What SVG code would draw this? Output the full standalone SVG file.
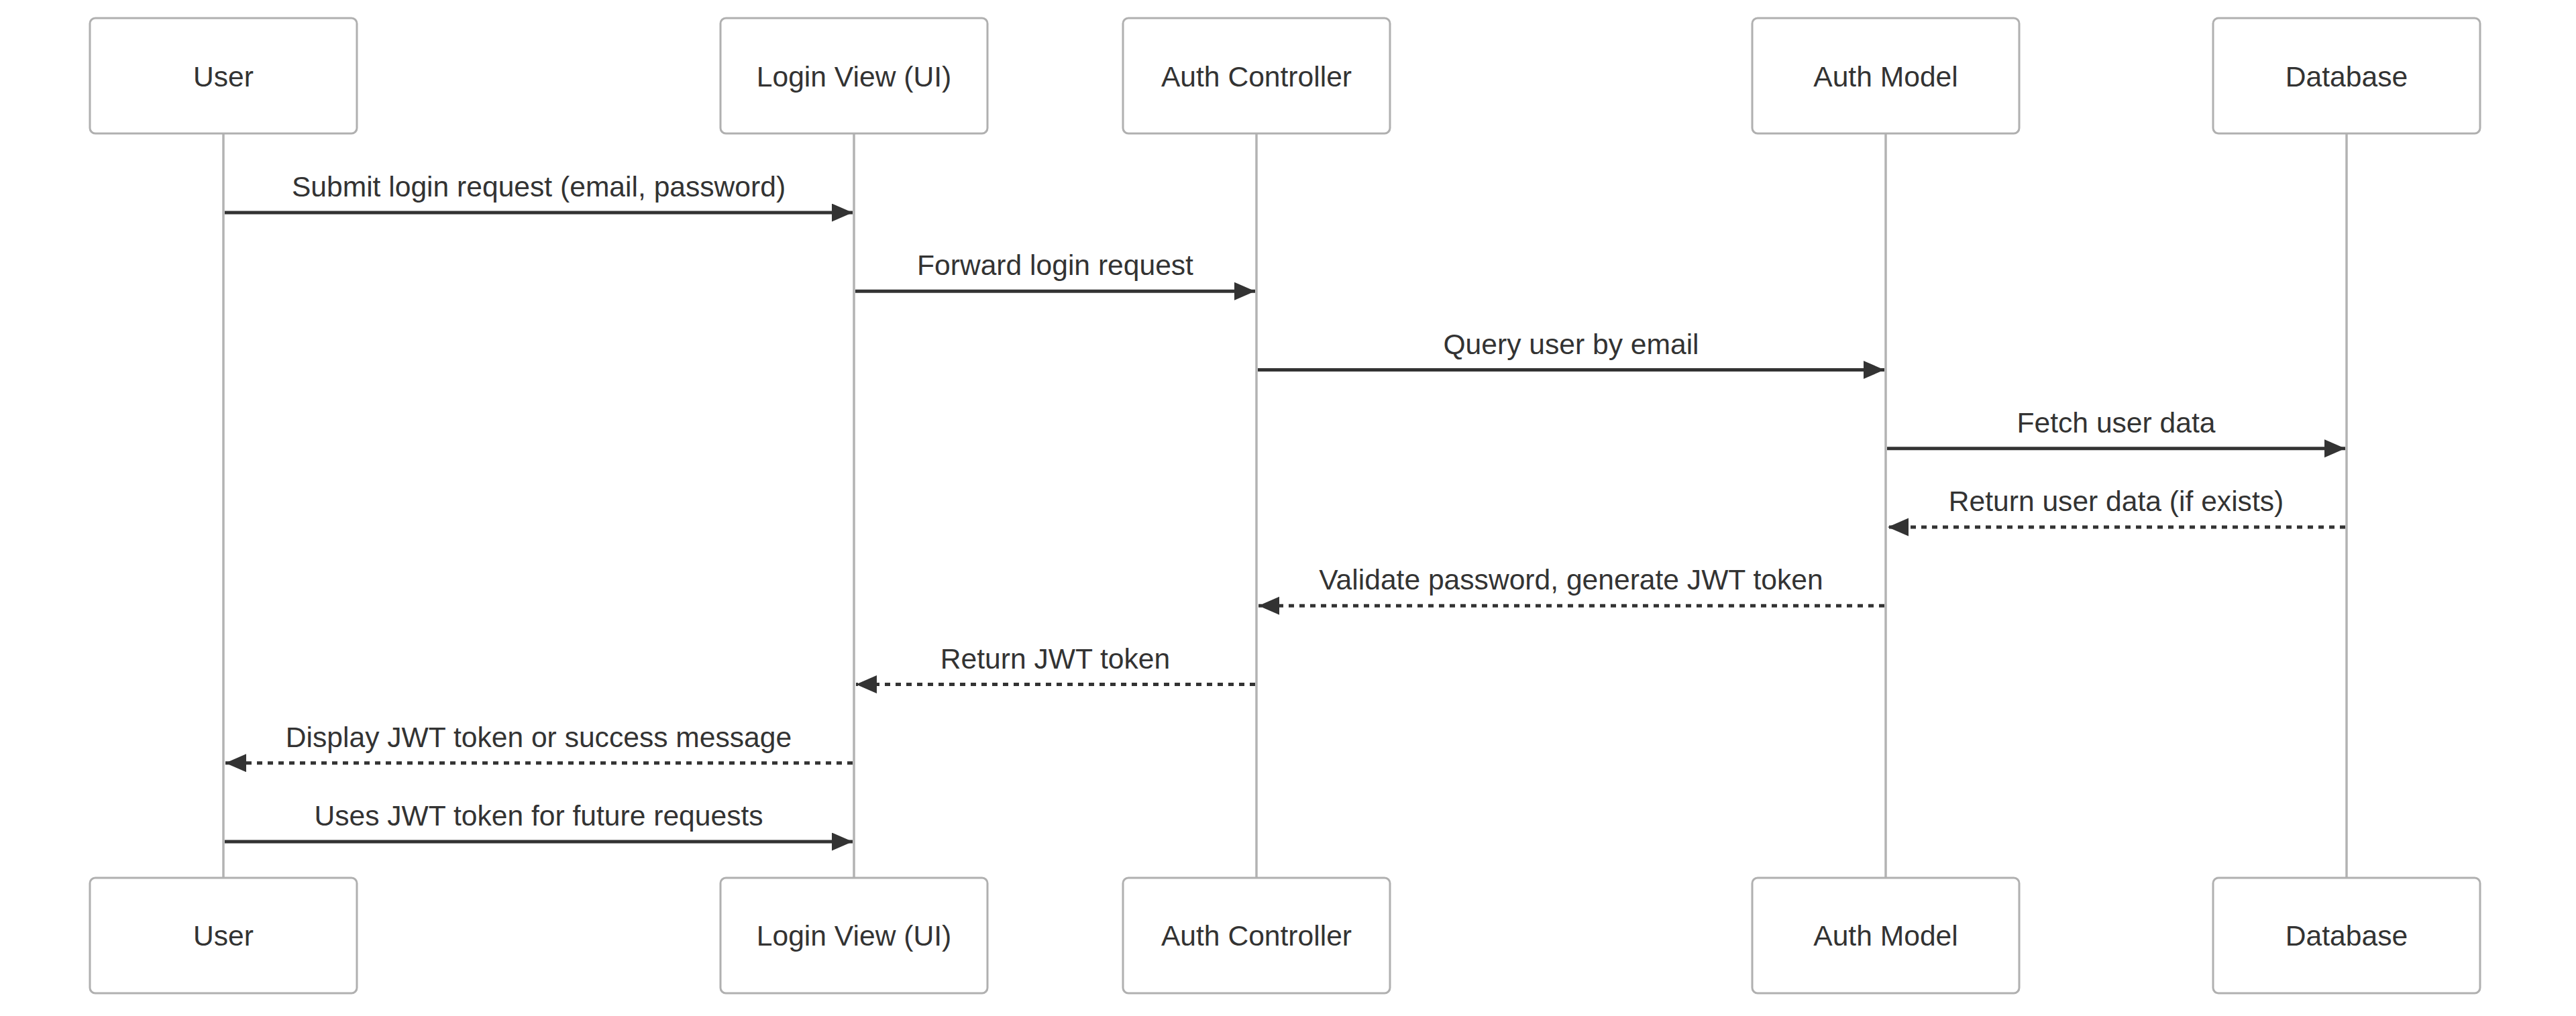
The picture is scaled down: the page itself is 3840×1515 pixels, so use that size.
<svg xmlns="http://www.w3.org/2000/svg" width="3840" height="1515" viewBox="0 0 3840 1515">
<style>
.actor{fill:#ffffff;stroke:#b0b0b0;stroke-width:3}
.lifeline{stroke:#b3b3b3;stroke-width:3.5;fill:none}
.msg{stroke:#333333;stroke-width:5;fill:none}
.dotted{stroke-dasharray:8 8}
.lbl{font-family:"Liberation Sans",Arial,sans-serif;font-size:42.6px;fill:#333333;text-anchor:middle}
</style>
<defs>
<marker id="arrow" markerUnits="userSpaceOnUse" markerWidth="32" markerHeight="28" refX="31" refY="13.5" orient="auto">
<path d="M0,0 L31,13.5 L0,27 z" fill="#333333"/>
</marker>
</defs>
<rect width="3840" height="1515" fill="#ffffff"/>
<g id="lifelines">
<line class="lifeline" x1="333" y1="200" x2="333" y2="1308"/>
<line class="lifeline" x1="1273" y1="200" x2="1273" y2="1308"/>
<line class="lifeline" x1="1873" y1="200" x2="1873" y2="1308"/>
<line class="lifeline" x1="2811" y1="200" x2="2811" y2="1308"/>
<line class="lifeline" x1="3498" y1="200" x2="3498" y2="1308"/>
</g>
<g id="user">
<rect class="actor" x="134" y="27" width="398" height="172" rx="8"/>
<text class="lbl" x="333" y="129">User</text>
<rect class="actor" x="134" y="1309" width="398" height="172" rx="8"/>
<text class="lbl" x="333" y="1410">User</text>
</g>
<g id="loginview">
<rect class="actor" x="1074" y="27" width="398" height="172" rx="8"/>
<text class="lbl" x="1273" y="129">Login View (UI)</text>
<rect class="actor" x="1074" y="1309" width="398" height="172" rx="8"/>
<text class="lbl" x="1273" y="1410">Login View (UI)</text>
</g>
<g id="authcontroller">
<rect class="actor" x="1674" y="27" width="398" height="172" rx="8"/>
<text class="lbl" x="1873" y="129">Auth Controller</text>
<rect class="actor" x="1674" y="1309" width="398" height="172" rx="8"/>
<text class="lbl" x="1873" y="1410">Auth Controller</text>
</g>
<g id="authmodel">
<rect class="actor" x="2612" y="27" width="398" height="172" rx="8"/>
<text class="lbl" x="2811" y="129">Auth Model</text>
<rect class="actor" x="2612" y="1309" width="398" height="172" rx="8"/>
<text class="lbl" x="2811" y="1410">Auth Model</text>
</g>
<g id="database">
<rect class="actor" x="3299" y="27" width="398" height="172" rx="8"/>
<text class="lbl" x="3498" y="129">Database</text>
<rect class="actor" x="3299" y="1309" width="398" height="172" rx="8"/>
<text class="lbl" x="3498" y="1410">Database</text>
</g>
<g id="connectors">
<line class="msg" x1="335" y1="317" x2="1271" y2="317" marker-end="url(#arrow)"/>
<text class="lbl" x="803" y="293">Submit login request (email, password)</text>
<line class="msg" x1="1275" y1="434.25" x2="1871" y2="434.25" marker-end="url(#arrow)"/>
<text class="lbl" x="1573" y="410">Forward login request</text>
<line class="msg" x1="1875" y1="551.5" x2="2809" y2="551.5" marker-end="url(#arrow)"/>
<text class="lbl" x="2342" y="528">Query user by email</text>
<line class="msg" x1="2813" y1="668.75" x2="3496" y2="668.75" marker-end="url(#arrow)"/>
<text class="lbl" x="3154.5" y="645">Fetch user data</text>
<line class="msg dotted" x1="3496" y1="786" x2="2814" y2="786" marker-end="url(#arrow)"/>
<text class="lbl" x="3154.5" y="762">Return user data (if exists)</text>
<line class="msg dotted" x1="2809" y1="903.25" x2="1876" y2="903.25" marker-end="url(#arrow)"/>
<text class="lbl" x="2342" y="879">Validate password, generate JWT token</text>
<line class="msg dotted" x1="1871" y1="1020.5" x2="1276" y2="1020.5" marker-end="url(#arrow)"/>
<text class="lbl" x="1573" y="997">Return JWT token</text>
<line class="msg dotted" x1="1271" y1="1137.75" x2="336" y2="1137.75" marker-end="url(#arrow)"/>
<text class="lbl" x="803" y="1114">Display JWT token or success message</text>
<line class="msg" x1="335" y1="1255" x2="1271" y2="1255" marker-end="url(#arrow)"/>
<text class="lbl" x="803" y="1231">Uses JWT token for future requests</text>
</g>
</svg>
